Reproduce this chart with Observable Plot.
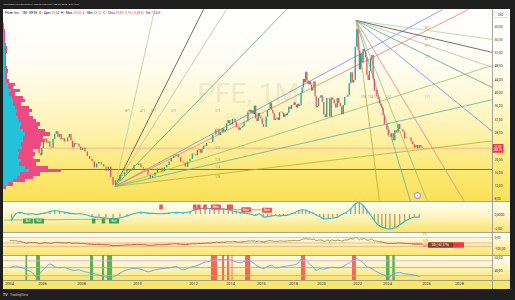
<!DOCTYPE html>
<html><head><meta charset="utf-8">
<script src="https://cdn.jsdelivr.net/npm/d3@7"></script>
<script src="https://cdn.jsdelivr.net/npm/@observablehq/plot@0.6"></script>
<style>
body{margin:0;background:#1e1e1e;}
#wrap{position:relative;width:515px;height:300px;overflow:hidden;background:#1e1e1e;font-family:Roboto,"DejaVu Sans",sans-serif;}
.bg{position:absolute;left:3px;width:507px;}
</style></head><body>
<div id="wrap">
  <div class="bg" style="top:9px;height:192px;background:linear-gradient(to bottom,#ffffff 0%,#fffdf2 30%,#fff4b6 60%,#fce872 85%,#fbe15a 100%);"></div>
  <div class="bg" style="top:201px;height:31px;background:linear-gradient(to bottom,#fffef6 0%,#fdf3b8 55%,#fbe468 100%);"></div>
  <div class="bg" style="top:232px;height:23px;background:linear-gradient(to bottom,#fffef6 0%,#fdf3b8 55%,#fbe468 100%);"></div>
  <div class="bg" style="top:255px;height:25px;background:linear-gradient(to bottom,#fffef6 0%,#fdf3b8 55%,#fbe468 100%);"></div>
  <div class="bg" style="top:280px;height:9px;background:#f8e66c;"></div>
</div>
<script>
// ---------- DATA ----------
// monthly closes, Jan 2004 .. Oct 2025
const closes = [
36.56,36.65,35.05,35.76,35.31,34.28,31.91,32.67,30.60,28.97,27.77,26.89,
24.16,26.29,26.27,27.17,27.90,27.58,26.50,25.47,24.97,21.74,21.20,23.32,
25.68,26.19,24.92,25.33,23.70,23.47,25.99,27.56,28.36,26.65,27.49,25.90,
26.24,25.24,25.26,26.46,27.50,25.57,23.51,24.84,24.43,24.61,23.76,22.73,
23.39,22.28,20.93,20.11,19.35,17.47,18.67,19.11,18.44,17.71,16.43,17.71,
14.58,12.29,13.62,13.36,15.19,15.00,15.93,16.70,16.55,17.03,18.17,18.19,
18.66,17.55,17.15,16.72,15.23,14.26,15.00,15.93,17.17,17.40,16.29,17.51,
18.22,19.24,20.31,20.96,21.45,20.60,19.24,18.98,17.68,19.27,20.09,21.64,
21.40,21.10,22.65,22.93,21.87,23.00,24.04,23.86,24.85,24.87,25.02,25.08,
27.27,27.37,28.86,29.07,27.23,28.01,29.23,28.21,28.71,30.68,31.73,30.63,
30.40,32.11,32.12,31.28,29.63,29.68,28.70,29.39,29.57,29.95,31.15,31.15,
31.25,34.32,34.79,33.93,34.75,33.53,36.06,32.22,31.41,33.82,32.77,32.28,
30.49,29.66,29.64,32.71,34.70,35.21,36.89,34.80,33.87,31.71,32.14,32.48,
31.73,34.12,34.21,33.92,32.65,33.59,33.16,33.92,35.70,35.06,36.26,36.22,
37.04,36.31,35.49,36.61,35.93,36.28,39.93,41.53,44.07,43.06,46.23,43.65,
42.45,43.38,42.47,40.61,41.53,43.32,38.84,35.55,35.93,38.37,38.52,39.18,
37.24,33.42,32.64,38.36,38.19,32.70,38.48,37.79,36.70,35.48,38.31,36.81,
35.90,33.49,36.23,38.65,38.73,39.16,42.81,46.07,43.01,43.74,53.73,59.05,
52.69,46.93,51.77,49.07,53.05,52.43,50.51,45.23,43.76,46.55,50.14,51.24,
44.16,40.57,40.80,38.89,38.02,36.68,36.06,35.38,33.17,30.56,30.47,28.79,
27.08,26.70,27.75,25.63,28.66,27.98,30.52,29.01,28.94,28.30,26.22,26.53,
26.51,26.43,25.34,24.42,23.48,24.24,23.29,24.20,23.54,23.39];
const firstOpen = 36.0;
const lastClose = 23.39;
const supportLevel = 17.0;
const athBefore2004 = 50.0;

// volume profile: price bins (lower edge, 1 USD wide), total and up volume
const profileLow = [11,12,13,14,15,16,17,18,19,20,21,22,23,24,25,26,27,28,29,30,31,32,33,34,35,36,37,38,39,40,41,42,43,44,45,46,47,48,49,50,51,52,53,54,55,56,57,58,59,60];
const profileTotal = [3,10,22,30,37,58,45,33,37,30,32,30,37,38,42,40,47,42,35,37,33,30,26,29,26,18,22,20,12,17,10,12,6,4,4,5,4,3,3,3,3,4,4,3,2,2,2,2,1,1];
const profileUp = [1,5,10,14,17,26,22,16,18,15,16,15,19,18,20,20,22,20,17,18,16,15,13,14,12,10,10,9,6,8,5,5,3,2,2,3,2,2,2,2,2,2,2,2,1,1,1,1,0.5,0.5];

// Gann fans
const fanLevels = ["8/1","4/1","3/1","2/1","1/1","1/2","1/3","1/4","1/8"];
const fan1Origin = [2009.2, 11.9];
const fan1Ends = [[2010.61,65.1],[2012.54,65.1],[2013.78,65.1],[2017.56,65.1],[2026.97,65.1],[2028.55,65.1],[2030,48.3],[2030,38.0],[2030,25.6]];
const fan1Labels = [[2009.64,34.6],[2010.18,34.6],[2010.57,34.6],[2011.29,34.6],[2013.3,34.6],[2013.3,23.6],[2013.3,20.0],[2013.3,17.9],[2013.3,14.9]];
const fan2Origin = [2021.92, 61.8];
const fan2Ends = [[2030,56.1],[2030,52.2],[2030,47.7],[2030,41.6],[2030,28.4],[2028.3,7.37],[2026.06,7.37],[2025.18,7.37],[2023.47,7.37]];
const fan2Labels = [[2026.05,59.7],[2026.05,56.4],[2026.05,54.3],[2026.05,50.7],[2026.05,38.9],[2024.03,38.9],[2023.27,38.9],[2022.87,38.9],[2022.4,38.9]];
const eventMarker = [2025.54, 9.17];

// oscillator pane (quarterly, 2004Q1 ..)
const macdQ = [-0.86,0.1,0.33,0.15, 0.05,0.1,0.0,0.1, 0.2,0.4,0.57,0.45, 0.3,0.2,0.1,0.1,
 0.0,-0.3,-0.4,-0.5, -0.6,-0.5,-0.2,0.1, 0.33,0.2,0.15,0.1, 0.2,0.3,0.25,0.4,
 0.7,0.85,0.9,0.85, 0.9,0.86,0.8,0.7, 0.5,0.4,0.3,0.2, 0.1,0.0,-0.14,0.1,
 -0.38,-0.3,-0.2,-0.15, -0.2,-0.14,-0.1,0.1, 0.3,0.55,0.67,0.6, 0.4,0.2,-0.1,-0.3,
 -0.62,-0.6,-0.5,-0.4, 0.0,0.3,0.8,1.5, 1.67,1.29,0.6,-0.1, -0.86,-1.5,-1.8,-2.0,
 -2.05,-1.9,-1.5,-1.0, -0.6,-0.4,-0.38];
const bullLineYears = [2003.7,2006.0,2008.0,2009.35];
const bullLineVals = [-0.8,-0.75,-0.7,-0.65];
const bearLineYears = [2013.0,2016.4];
const bearLineVals = [0.75,0.65];
const bullSignals = [[2005.15,"Bull"],[2005.82,"Bull"],[2008.45,""],[2008.80,""],[2009.18,"Bull"]];
const bearSignals = [[2010.86,"",1.0],[2012.1,"",1.0],[2012.32,"",1.0],[2012.65,"",1.0],[2013.24,"Bear",1.0],[2013.92,"",1.0],[2014.08,"",1.0],[2015.05,"Bear",0.6],[2016.38,"Bear",0.55]];

// drawdown pane
const ddLevels = [0,-50,-80];
const ddLevelText = ["0%","-50%","-80%"];
const ddLabelText = "DD (-62.37%)";

// RSI pane (quarterly)
const rsiQ = [45,47,45,43, 40,37,30,36, 44,50,46,44, 45,42,40,41, 38,36,33,30, 30,36,41,43,
 42,38,41,43, 44,46,41,45, 47,50,53,54, 58,57,56,58, 55,53,52,54, 56,53,49,45,
 43,46,48,44, 45,46,47,48, 49,52,59,57, 50,46,40,43, 42,44,45,44, 45,49,53,59,
 56,52,46,44, 40,37,34,32, 31,36,37,35, 34,33,31];
const rsiLevels = [55,44.5,32];
const greenBands = [[2005.0,2005.1],[2005.64,2005.88],[2008.32,2008.43],[2008.75,2008.82],[2008.93,2009.11],[2023.93,2024.13],[2024.27,2024.4]];
const redBands = [[2012.97,2013.3],[2013.57,2013.68],[2013.84,2013.95],[2014.1,2014.16],[2014.97,2015.3],[2018.57,2018.86],[2021.72,2021.94]];

// axes
const tickYears = [2004,2006,2008,2010,2012,2014,2016,2018,2020,2022,2024,2026,2028];
const priceTicks = [8,12,16,20,24,28,32,36,40,44,48,52,56,60];

// ---------- LAYOUT ----------
const wrap = document.getElementById("wrap");
const FONT = "Roboto, 'DejaVu Sans', sans-serif";
// piecewise time axis as laid out in the reference (pixel position of each year label)
const tickPx = [6,39,78,134,190,227,258,290,318,354,384,423,456];
const xCfg = {type:"linear", domain:[2003.64, ...tickYears, 2030], range:[0, ...tickPx, 489], axis:null};
const W = 507, MR = 18;
const baseStyle = {background:"transparent", fontFamily:FONT, overflow:"visible"};
const monthT = i => 2004 + i/12 + 1/24;
const qT = i => 2004 + i/4 + 0.125;
const commaFmt = d => d.toFixed(2).replace(".", ",");
const UP = "#1fa584", DOWN = "#ef4d5a";
const fanColor = {"8/1":"#a5d6a7","4/1":"#4e4e4e","3/1":"#c3b9a8","2/1":"#4bb07a","1/1":"#6c8cf0","1/2":"#f47c7c","1/3":"#8bc870","1/4":"#4db6ac","1/8":"#b8ac3c"};

function place(node, top) {
  node.style.position = "absolute"; node.style.left = "3px"; node.style.top = top + "px";
  wrap.appendChild(node);
}
function boxes(items) {
  return (index, scales, values, dims) => {
    const g = d3.create("svg:g");
    for (const b of items) {
      const cx = b.right ? dims.width - dims.marginRight + b.w/2 : scales.x(b.t);
      const cy = scales.y(b.v) + (b.dy || 0);
      g.append("rect").attr("x", cx - b.w/2).attr("y", cy - b.h/2).attr("width", b.w).attr("height", b.h)
        .attr("rx", b.rx ?? 0.6).attr("fill", b.fill);
      (b.lines || (b.label ? [b.label] : [])).forEach((s, k, arr) => {
        g.append("text").attr("x", cx).attr("y", cy + (k - (arr.length-1)/2) * (b.lh || 3.5))
          .attr("text-anchor","middle").attr("dominant-baseline","central")
          .attr("font-size", b.fs || 3).attr("fill", "#fff").attr("font-family", FONT).text(s);
      });
    }
    return g.node();
  };
}

// ---------- MAIN PANE ----------
const candles = closes.map((c, i) => ({t: monthT(i), o: i ? closes[i-1] : firstOpen, c}));
const fanSegs = [];
const fanTexts = [];
[[fan1Origin, fan1Ends, fan1Labels], [fan2Origin, fan2Ends, fan2Labels]].forEach(([o, ends, labs]) => {
  fanLevels.forEach((lv, k) => {
    fanSegs.push({x1:o[0], y1:o[1], x2:ends[k][0], y2:ends[k][1], col:fanColor[lv]});
    fanTexts.push({t:labs[k][0], p:labs[k][1], s:lv});
  });
});
const volPx = d3.scaleLinear().domain([0, 60]).range([0, 60]);
const profileMark = (index, scales) => {
  const g = d3.create("svg:g").attr("shape-rendering","crispEdges");
  profileLow.forEach((lo, i) => {
    const y0 = scales.y(lo + 1), y1 = scales.y(lo);
    g.append("rect").attr("x",0).attr("y",y0).attr("width",volPx(profileTotal[i])).attr("height",y1-y0).attr("fill","#ec4a80");
    g.append("rect").attr("x",0).attr("y",y0).attr("width",volPx(profileUp[i])).attr("height",y1-y0).attr("fill","#22c3d8");
  });
  return g.node();
};

const main = Plot.plot({
  width: W, height: 192, margin: 0, marginRight: MR,
  x: xCfg, y: {domain:[7.37, 65.11], range:[192, 0], axis:null},
  color: {type:"identity"},
  style: baseStyle,
  marks: [
    Plot.text(["PFE, 1M"], {frameAnchor:"middle", dy:-11, fontSize:28, fill:"#d8e3b4", fillOpacity:0.55}),
    Plot.text(["Pfizer Inc."], {frameAnchor:"middle", dy:12, fontSize:10, fill:"#d8e3b4", fillOpacity:0.55}),
    Plot.ruleY([lastClose], {stroke:"#f6a58a", strokeWidth:0.8}),
    Plot.ruleY([supportLevel], {stroke:"#f23645", strokeWidth:1}),
    Plot.link(fanSegs, {x1:"x1", y1:"y1", x2:"x2", y2:"y2", stroke:"col", strokeWidth:0.8, clip:true}),
    Plot.ruleX(candles, {x:"t", y1:"o", y2:"c", stroke: d => d.c >= d.o ? UP : DOWN, strokeWidth:1.3}),
    profileMark,
    Plot.text(fanTexts, {x:"t", y:"p", text:"s", fontSize:3.3, fill:"#8f8f7a"}),
    Plot.dot([eventMarker], {x: d => d[0], y: d => d[1], r:3, fill:"#ffffff", stroke:"#a14fe0", strokeWidth:0.8}),
    Plot.text([eventMarker], {x: d => d[0], y: d => d[1], text: () => "⚡", fontSize:3.5, fill:"#a14fe0"}),
    Plot.axisY(priceTicks, {anchor:"right", tickSize:0, tickPadding:2, fontSize:3.3, fill:"#333", tickFormat:commaFmt, label:null}),
    boxes([{right:true, v:lastClose, dy:0.6, w:11.5, h:8.6, rx:0.5, fill:"#f23645", lines:["23,39","28d 2h"], fs:2.9, lh:3.6}])
  ]
});
place(main, 9);

// ---------- OSCILLATOR PANE ----------
const bullLine = bullLineYears.map((t, i) => [t, bullLineVals[i]]);
const bearLine = bearLineYears.map((t, i) => [t, bearLineVals[i]]);
const sigBoxes = [
  ...bullSignals.map(([t, s]) => ({t, v:-1.0, w: s ? 10 : 3.5, h:5, fill:"#43a047", label:s, fs:3})),
  ...bearSignals.map(([t, s, v]) => ({t, v, w: s ? 10 : 3.5, h:5, fill:"#f05454", label:s, fs:3}))
];
const osc = Plot.plot({
  width: W, height: 31, margin: 0, marginRight: MR,
  x: xCfg, y: {domain:[-2.571, 1.857], range:[31, 0], axis:null},
  color: {type:"identity"}, style: baseStyle,
  marks: [
    Plot.ruleX(macdQ, {x:(d,i) => qT(i), y1:0, y2:d => d, stroke:"#aaa27a", strokeWidth:1.3}),
    Plot.line(bullLine, {x:d => d[0], y:d => d[1], stroke:"#7cc576", strokeWidth:0.9}),
    Plot.line(bearLine, {x:d => d[0], y:d => d[1], stroke:"#f28080", strokeWidth:0.9}),
    Plot.line(macdQ, {x:(d,i) => qT(i), y:d => d, stroke:"#27bcd1", strokeWidth:1.1, curve:"catmull-rom"}),
    boxes(sigBoxes),
    Plot.axisY([0, -2], {anchor:"right", tickSize:0, tickPadding:2, fontSize:3.3, fill:"#333", tickFormat: d => d === 0 ? "0,0000" : "-2,00", label:null})
  ]
});
place(osc, 201);

// ---------- DRAWDOWN PANE ----------
const ddPts = [];
{
  let runMax = athBefore2004, seg = -1, prevCol = null, prev = null;
  closes.forEach((c, i) => {
    runMax = Math.max(runMax, c);
    const dd = (c / runMax - 1) * 100;
    const col = dd >= -40 ? "#86994a" : dd >= -60 ? "#a6653a" : "#b5493a";
    if (col !== prevCol) {
      seg++;
      if (prev) ddPts.push({t: prev.t, dd: prev.dd, seg, col});
      prevCol = col;
    }
    ddPts.push({t: monthT(i), dd, seg, col});
    prev = {t: monthT(i), dd};
  });
}
const ddLevelCols = ["#a5d6a7","#f59b9b","#f7a35c"];
const ddTextCols = ["#4caf50","#ff9800","#f23645"];
const ddTextPos = [27,-36,-82];
const dd = Plot.plot({
  width: W, height: 23, margin: 0, marginRight: MR,
  x: xCfg, y: {domain:[-163.6, 45.45], range:[23, 0], axis:null},
  color: {type:"identity"}, style: baseStyle,
  marks: [
    Plot.ruleY(ddLevels, {y: d => d, stroke: (d,i) => ddLevelCols[i], strokeWidth:0.8}),
    Plot.line(ddPts, {x:"t", y:"dd", z:"seg", stroke:"col", strokeWidth:0.9}),
    Plot.text(ddLevelText, {x: () => 2025.8, y: (d,i) => ddTextPos[i], text: d => d, fill: (d,i) => ddTextCols[i], fontSize:2.8, textAnchor:"start"}),
    boxes([
      {t:2027.97, v:-72.7, w:11, h:5.5, fill:"#f23645", label:""},
      {t:2026.88, v:-72.7, w:25, h:5.5, fill:"#8d3a22", label:ddLabelText, fs:3}
    ]),
    Plot.axisY([0, -100], {anchor:"right", tickSize:0, tickPadding:2, fontSize:3.3, fill:"#333", tickFormat:commaFmt, label:null})
  ]
});
place(dd, 232);

// ---------- RSI PANE + TIME AXIS ----------
const rsiLevelCols = ["#f3a3a0","#a8a8a0","#c4b75a"];
const rsi = Plot.plot({
  width: W, height: 34, margin: 0, marginRight: MR, marginBottom: 9,
  x: xCfg, y: {domain:[24.62, 63.08], range:[25, 0], axis:null},
  color: {type:"identity"}, style: baseStyle,
  marks: [
    Plot.rect(greenBands, {x1: d => d[0], x2: d => d[1], fill:"#4caf50", fillOpacity:0.95}),
    Plot.rect(redBands, {x1: d => d[0], x2: d => d[1], fill:"#f5584c", fillOpacity:0.9}),
    Plot.ruleY(rsiLevels, {y: d => d, stroke: (d,i) => rsiLevelCols[i], strokeWidth:0.8, strokeDasharray: (d,i) => i === 2 ? "2,1.5" : null}),
    Plot.line(rsiQ, {x:(d,i) => qT(i), y:d => d, stroke:"#5aa6ec", strokeWidth:0.9, curve:"catmull-rom"}),
    Plot.axisY([60, 40], {anchor:"right", tickSize:0, tickPadding:2, fontSize:3.3, fill:"#333", tickFormat:commaFmt, label:null}),
    Plot.axisX(tickYears, {anchor:"bottom", tickSize:0, tickPadding:1.5, fontSize:3.8, fill:"#333", tickFormat: d => String(d), label:null})
  ]
});
place(rsi, 255);

// ---------- FRAME, HEADER, FOOTER ----------
const ov = d3.create("svg").attr("width",515).attr("height",300)
  .style("position","absolute").style("left","0px").style("top","0px").style("pointer-events","none")
  .attr("font-family", FONT);
ov.append("rect").attr("x",0).attr("y",0).attr("width",515).attr("height",9).attr("fill","#1e1e1e");
ov.append("text").attr("x",3).attr("y",5.2).attr("font-size",2.4).attr("fill","#d8d8d8")
  .text("Kennardxxl ha pubblicato su TradingView.com il Ott 03, 2025 18:27 UTC");
[201,232,255,280].forEach(y => ov.append("line").attr("x1",3).attr("x2",510).attr("y1",y+0.5).attr("y2",y+0.5).attr("stroke","#8c8c8c").attr("stroke-width",0.8));
ov.append("line").attr("x1",492.5).attr("x2",492.5).attr("y1",9).attr("y2",289).attr("stroke","#8c8c8c").attr("stroke-width",0.8);
ov.append("rect").attr("x",494).attr("y",12).attr("width",13).attr("height",5.4).attr("fill","#fff").attr("stroke","#bbb").attr("stroke-width",0.4);
ov.append("text").attr("x",500.5).attr("y",14.9).attr("text-anchor","middle").attr("dominant-baseline","central").attr("font-size",3).attr("fill","#333").text("USD");
const hdr = ov.append("text").attr("x",5).attr("y",14).attr("font-size",3.3).attr("fill","#131722");
[["Pfizer Inc. · 1M · NYSE  ", null],["O - Aper.", null],["23,54", "#f23645"],["  H - Mas.", null],["23,56", "#f23645"],
 ["  L - Min.", null],["23,22", "#f23645"],["  C - Chiu.", null],["23,39 -0,10 (-0,43%)", "#f23645"],["  Vol ", null],["7,34M", "#f23645"]]
 .forEach(([s, c]) => { const ts = hdr.append("tspan").text(s).attr("xml:space","preserve"); if (c) ts.attr("fill", c); });
ov.append("text").attr("x",3).attr("y",296).attr("font-size",3.6).attr("font-weight","bold").attr("fill","#d0d0d0").text("TV");
ov.append("text").attr("x",10).attr("y",296).attr("font-size",3.3).attr("fill","#c8c8c8").text("TradingView");
wrap.appendChild(ov.node());
</script>
</body></html>
